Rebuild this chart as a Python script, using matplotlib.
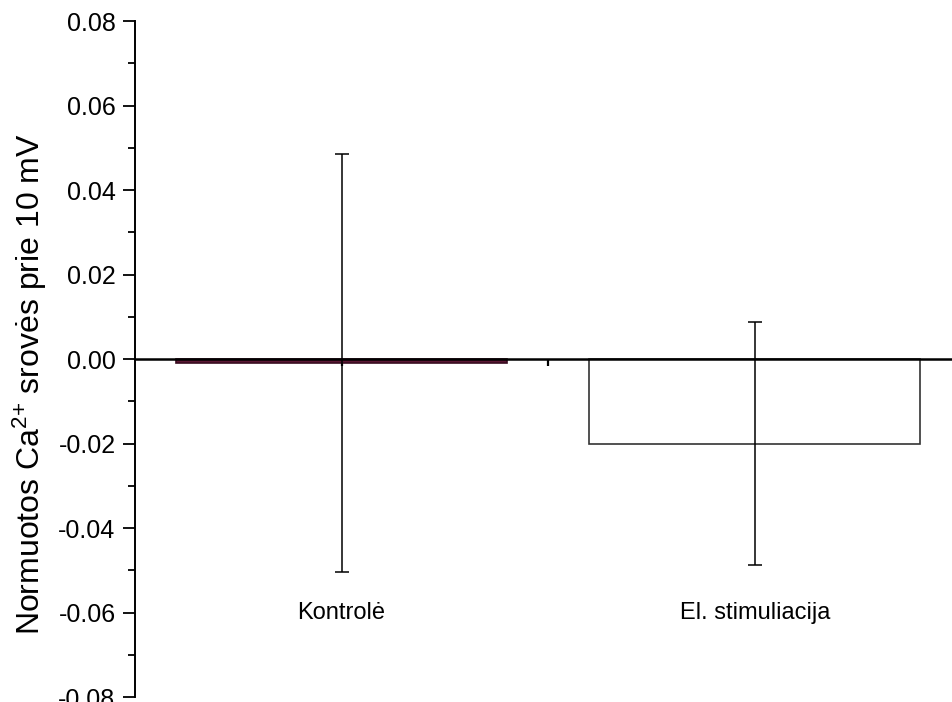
import matplotlib
matplotlib.use("Agg")
import matplotlib.pyplot as plt
import numpy as np

plt.rcParams['font.family'] = ['Liberation Sans', 'DejaVu Sans']
plt.rcParams['mathtext.fontset'] = 'custom'
plt.rcParams['mathtext.rm'] = 'Liberation Sans'
plt.rcParams['mathtext.it'] = 'Liberation Sans:italic'

# values
categories = ['Kontrolė', 'El. stimuliacija']
means = [-0.0009, -0.0200]
errors = [0.0494, 0.0287]
bar_colors = ['#5a1733', 'white']
edge_colors = ['#3a0c20', '#333333']

x = np.array([1, 2])

fig = plt.figure(figsize=(9.53, 7.02), dpi=100)
ax = fig.add_axes([0.1417, 0.007, 0.8583, 0.963])

ax.bar(x, means, width=0.8, color=bar_colors, edgecolor=edge_colors, linewidth=1.2, zorder=2)
ax.errorbar(x, means, yerr=errors, fmt='none', ecolor='black', elinewidth=1.1,
            capsize=5, capthick=1.1, zorder=3)

ax.set_xlim(0.5, 2.48)
ax.set_ylim(-0.08, 0.08)

# spines: left axis, horizontal axis at zero
ax.spines['top'].set_visible(False)
ax.spines['right'].set_visible(False)
ax.spines['bottom'].set_position(('data', 0))
ax.spines['bottom'].set_linewidth(1.8)
ax.spines['bottom'].set_zorder(4)
ax.spines['left'].set_linewidth(1.4)

ax.set_yticks(np.arange(-0.08, 0.081, 0.02))
ax.set_yticks(np.arange(-0.07, 0.08, 0.02), minor=True)
ax.set_yticklabels(['%.2f' % v for v in np.arange(-0.08, 0.081, 0.02)])
ax.tick_params(axis='y', which='major', direction='out', length=9, width=1.3, labelsize=18, pad=5)
ax.tick_params(axis='y', which='minor', direction='out', length=5, width=1.3)

ax.set_xticks([1, 1.5, 2])
ax.set_xticklabels([])
ax.tick_params(axis='x', which='major', direction='out', length=5, width=1.6)

for xi, lab in zip(x, categories):
    ax.text(xi, -0.06, lab, ha='center', va='center', fontsize=17)

# y label placed by hand, it sits a bit below the axis centre
fig.text(30 / 953, 1 - 384 / 702, 'Normuotos Ca$^{2{+}}$ srovės prie 10 mV',
         rotation=90, ha='center', va='center', fontsize=23)

fig.savefig('out.png', dpi=100)
